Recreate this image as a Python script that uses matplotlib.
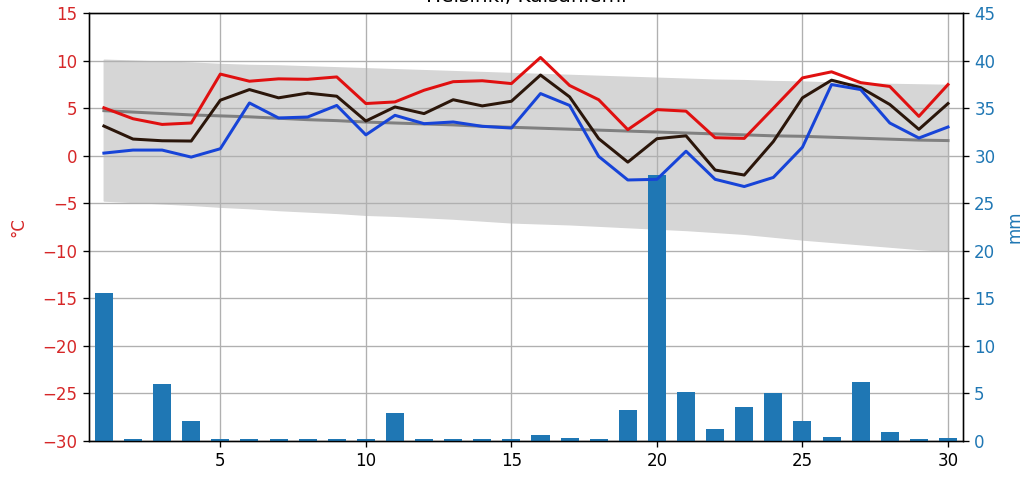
import numpy as np
import matplotlib
matplotlib.use('Agg')
from matplotlib import pyplot as plt

days = np.arange(1, 31)

# daily max / mean / min temperature (C)
t_max = [5.05, 3.9, 3.3, 3.45, 8.6, 7.85, 8.1, 8.05, 8.3, 5.5,
         5.67, 6.9, 7.8, 7.9, 7.6, 10.35, 7.4, 5.9, 2.75, 4.86,
         4.7, 1.9, 1.83, 5.0, 8.2, 8.84, 7.7, 7.3, 4.15, 7.5]
t_mean = [3.13, 1.76, 1.58, 1.55, 5.85, 6.97, 6.1, 6.6, 6.27, 3.66,
          5.14, 4.44, 5.9, 5.25, 5.74, 8.5, 6.2, 1.8, -0.67, 1.8,
          2.1, -1.5, -2.03, 1.5, 6.1, 7.96, 7.18, 5.4, 2.78, 5.5]
t_min = [0.28, 0.6, 0.6, -0.14, 0.74, 5.56, 3.98, 4.08, 5.3, 2.2,
         4.26, 3.38, 3.56, 3.1, 2.92, 6.55, 5.3, -0.07, -2.55, -2.48,
         0.48, -2.48, -3.24, -2.28, 0.9, 7.5, 6.97, 3.45, 1.87, 3.03]

# climatology: mean and range
clim_mean = [4.75, 4.6, 4.45, 4.3, 4.2, 4.1, 3.95, 3.8, 3.7, 3.55,
             3.45, 3.35, 3.25, 3.1, 3.0, 2.9, 2.8, 2.7, 2.6, 2.5,
             2.4, 2.3, 2.2, 2.1, 2.05, 1.95, 1.85, 1.75, 1.65, 1.6]
clim_hi = [10.1, 10.0, 9.9, 9.8, 9.65, 9.55, 9.5, 9.4, 9.3, 9.2,
           9.1, 9.0, 8.9, 8.8, 8.7, 8.6, 8.5, 8.4, 8.3, 8.2,
           8.1, 8.0, 7.95, 7.85, 7.8, 7.7, 7.6, 7.55, 7.5, 7.45]
clim_lo = [-4.7, -4.85, -5.0, -5.15, -5.35, -5.5, -5.7, -5.85, -6.0, -6.2,
           -6.3, -6.45, -6.6, -6.8, -7.0, -7.1, -7.2, -7.35, -7.5, -7.65,
           -7.8, -8.0, -8.2, -8.5, -8.8, -9.05, -9.3, -9.55, -9.8, -10.0]

# precipitation (mm)
rain = [15.5, 0.2, 6.0, 2.1, 0.2, 0.2, 0.2, 0.2, 0.2, 0.2,
        2.95, 0.2, 0.2, 0.2, 0.2, 0.55, 0.25, 0.2, 3.25, 28.0,
        5.15, 1.25, 3.55, 5.0, 2.1, 0.35, 6.15, 0.95, 0.2, 0.25]

fig = plt.figure(figsize=(1034/120, 484/120), dpi=120)
ax = fig.add_axes([0.0864, 0.0895, 0.8445, 0.883])

ax.fill_between(days, clim_lo, clim_hi, color='#d6d6d6')
ax.plot(days, clim_mean, color='grey', lw=1.8)
ax.set_xlim(0.5, 30.5)
ax.set_ylim(-30, 15)
ax.set_xticks([5, 10, 15, 20, 25, 30])
ax.set_yticks(np.arange(-30, 16, 5))
ax.grid(True)
ax.tick_params(axis='y', labelcolor='tab:red')
ax.set_ylabel('°C', color='tab:red', labelpad=9)
# title sits partly above the figure edge, as in the original
ax.set_title('Helsinki, Kaisaniemi', pad=6.5)

ax2 = ax.twinx()
ax2.bar(days, rain, width=0.62, color='tab:blue')
ax2.set_ylim(0, 45)
ax2.set_yticks(np.arange(0, 46, 5))
ax2.tick_params(axis='y', labelcolor='tab:blue')
ax2.set_ylabel('mm', color='tab:blue', labelpad=6)

# temperature lines on top of the bars
ax3 = fig.add_axes(ax.get_position(), sharex=ax, sharey=ax, frameon=False)
ax3.set_axis_off()
ax3.plot(days, t_max, color='#e01010', lw=1.8)
ax3.plot(days, t_mean, color='#2b160a', lw=1.8)
ax3.plot(days, t_min, color='#1744d8', lw=1.8)

plt.savefig('out.png', dpi=120)
